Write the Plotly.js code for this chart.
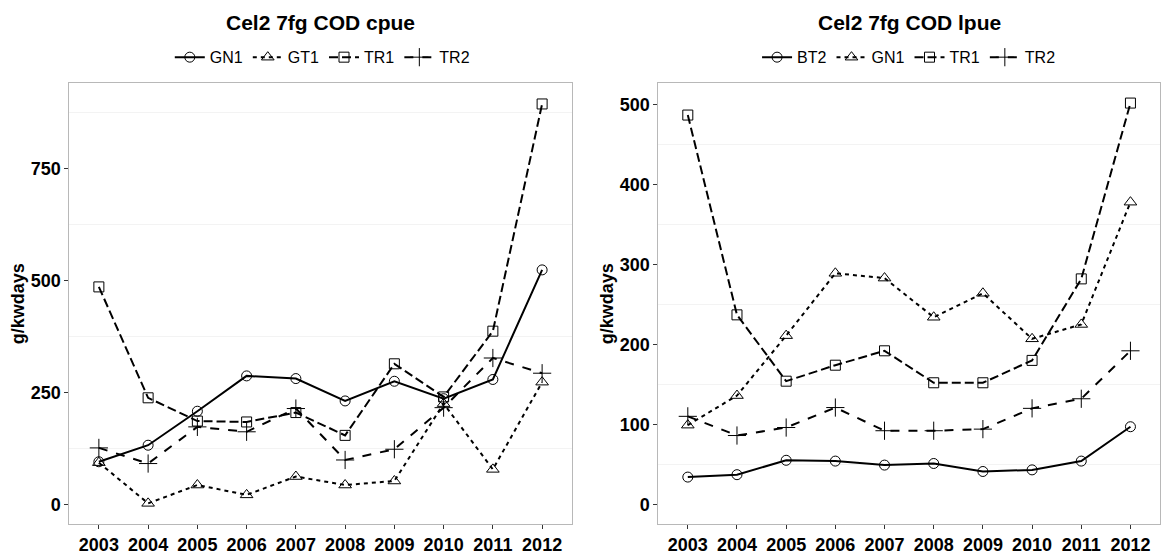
<!DOCTYPE html>
<html>
<head>
<meta charset="utf-8">
<script src="https://cdn.plot.ly/plotly-3.0.1.min.js"></script>
<style>html,body{margin:0;padding:0;background:#fff;}#chart{width:1161px;height:556px;}</style>
</head>
<body>
<div id="chart"></div>
<script>
// ---- data ----
const years = [2003, 2004, 2005, 2006, 2007, 2008, 2009, 2010, 2011, 2012];

// left panel: Cel2 7fg COD cpue
const cpueNames = ["GN1", "GT1", "TR1", "TR2"];
const cpueGN1 = [95, 132, 208, 287, 281, 231, 275, 236, 279, 524];
const cpueGT1 = [93, 2, 43, 21, 62, 43, 52, 225, 78, 273];
const cpueTR1 = [486, 238, 186, 184, 205, 154, 314, 240, 387, 895];
const cpueTR2 = [126, 91, 173, 162, 214, 99, 123, 216, 327, 293];

// right panel: Cel2 7fg COD lpue
const lpueNames = ["BT2", "GN1", "TR1", "TR2"];
const lpueBT2 = [34, 37, 55, 54, 49, 51, 41, 43, 54, 97];
const lpueGN1 = [99, 136, 211, 289, 283, 234, 264, 207, 225, 378];
const lpueTR1 = [487, 237, 154, 174, 192, 152, 152, 180, 282, 502];
const lpueTR2 = [110, 86, 96, 121, 92, 92, 94, 120, 132, 192];

const cpueTicks = [0, 250, 500, 750];
const lpueTicks = [0, 100, 200, 300, 400, 500];

// ---- styles (ggplot-like shape / linetype order) ----
const symbols = ["circle-open", "triangle-up-open", "square-open", "cross-thin-open"];
const msizes = [10, 11, 10, 13];
const dashes = ["solid", "4px,4px", "9px,4px", "9px,9px"];
const FONT = "Liberation Sans, Arial, sans-serif";

function mk(name, y, i, xa, ya, lg) {
  return {
    type: "scatter", mode: "lines+markers", name: name,
    x: years, y: y, xaxis: xa, yaxis: ya, legend: lg,
    line: {color: "#000", width: 2, dash: dashes[i]},
    marker: {symbol: symbols[i], size: msizes[i], color: "#000",
             line: {color: "#111", width: 1}}
  };
}

const traces = [
  mk(cpueNames[0], cpueGN1, 0, "x", "y", "legend"),
  mk(cpueNames[1], cpueGT1, 1, "x", "y", "legend"),
  mk(cpueNames[2], cpueTR1, 2, "x", "y", "legend"),
  mk(cpueNames[3], cpueTR2, 3, "x", "y", "legend"),
  mk(lpueNames[0], lpueBT2, 0, "x2", "y2", "legend2"),
  mk(lpueNames[1], lpueGN1, 1, "x2", "y2", "legend2"),
  mk(lpueNames[2], lpueTR1, 2, "x2", "y2", "legend2"),
  mk(lpueNames[3], lpueTR2, 3, "x2", "y2", "legend2")
];

function xax(domain, anchor) {
  return {
    domain: domain, anchor: anchor, range: [2002.4, 2012.6],
    tickvals: years, ticktext: years.map(String),
    ticks: "outside", ticklen: 4, tickcolor: "#333", tickwidth: 1,
    showgrid: false, zeroline: false,
    showline: true, mirror: true, linecolor: "#b8b8b8", linewidth: 1,
    tickfont: {family: FONT, size: 18, weight: "bold", color: "#000"},
    automargin: false
  };
}
function yax(domain, anchor, range, ticks, minorTick0, minorDtick) {
  return {
    domain: domain, anchor: anchor, range: range,
    tickvals: ticks, ticktext: ticks.map(String),
    ticks: "outside", ticklen: 4, tickcolor: "#333", tickwidth: 1,
    showgrid: false, zeroline: false,
    showline: true, mirror: true, linecolor: "#b8b8b8", linewidth: 1,
    minor: {tick0: minorTick0, dtick: minorDtick, showgrid: true, gridcolor: "#f3f3f3", gridwidth: 1, ticks: ""},
    tickfont: {family: FONT, size: 18, weight: "bold", color: "#000"},
    title: {text: "g/kwdays", font: {family: FONT, size: 18, weight: "bold", color: "#000"}, standoff: 1},
    automargin: false
  };
}

const legendStyle = (x) => ({
  orientation: "h", x: x, xanchor: "center", y: 0.897, yanchor: "middle",
  font: {family: FONT, size: 16, color: "#000"},
  bgcolor: "rgba(0,0,0,0)", itemwidth: 30, tracegroupgap: 0,
  itemclick: false
});

const layout = {
  width: 1161, height: 556,
  margin: {l: 0, r: 0, t: 0, b: 0},
  paper_bgcolor: "#fff", plot_bgcolor: "#fff",
  font: {family: FONT, color: "#000"},
  showlegend: true,
  xaxis: xax([0.0597, 0.4924], "y"),
  yaxis: yax([0.057, 0.8507], "x", [-44.85, 941.85], cpueTicks, 125, 250),
  xaxis2: xax([0.5670, 0.9991], "y2"),
  yaxis2: yax([0.057, 0.8507], "x2", [-25.1, 527.1], lpueTicks, 50, 100),
  legend: legendStyle(0.2776),
  legend2: legendStyle(0.7830),
  annotations: [
    {text: "Cel2 7fg COD cpue", xref: "paper", yref: "paper", x: 0.2761, y: 0.960,
     xanchor: "center", yanchor: "middle", showarrow: false,
     font: {family: FONT, size: 21, weight: "bold", color: "#000"}},
    {text: "Cel2 7fg COD lpue", xref: "paper", yref: "paper", x: 0.7830, y: 0.960,
     xanchor: "center", yanchor: "middle", showarrow: false,
     font: {family: FONT, size: 21, weight: "bold", color: "#000"}}
  ]
};

Plotly.newPlot("chart", traces, layout, {displayModeBar: false, staticPlot: true});
</script>
</body>
</html>
